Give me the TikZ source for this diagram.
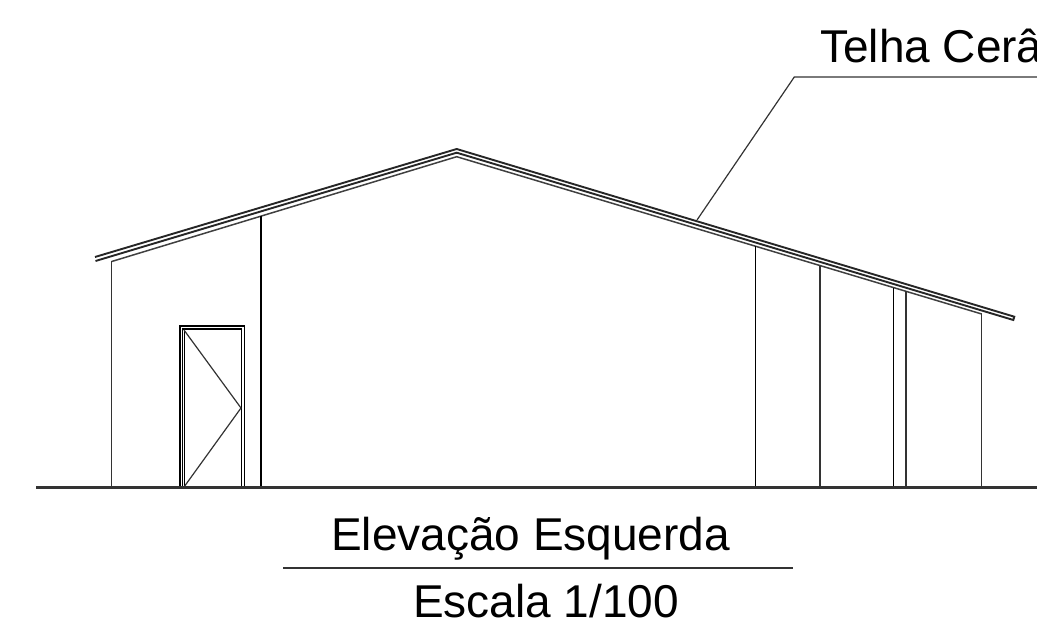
\documentclass[tikz,border=0pt]{standalone}
\usepackage{fontspec}
\setmainfont{Liberation Sans}
\tikzset{
  thin line/.style={line width=1.2pt,black!80},
  thick line/.style={line width=1.7pt,black},
  roof line/.style={line width=1.9pt,black!85},
  label text/.style={inner sep=0pt,anchor=base west,font=\fontsize{46}{52}\selectfont}
}
\begin{document}
\begin{tikzpicture}[x=1pt,y=-1pt]
\useasboundingbox (0,0) rectangle (1037,636);
\clip (0,0) rectangle (1037,636);
% roof
\draw[roof line] (95,257) -- (456.7,149) -- (1014.3,316.7) -- (1013.3,320) -- (456.7,152.7) -- (95.5,261);
\draw[line width=1.5pt,black!75] (111.7,261.5) -- (456.7,156.7) -- (981.7,314);
% walls
\draw[thin line] (111.7,261.5) -- (111.7,487);
\draw[thick line] (261,216) -- (261,487);
\draw[thick line] (755.5,246.3) -- (755.5,487);
\draw[thin line] (820,265.6) -- (820,487);
\draw[thick line] (893.5,287.7) -- (893.5,487);
\draw[thin line] (906,291.5) -- (906,487);
\draw[thin line] (981.7,314) -- (981.7,487);
% door
\draw[thick line] (180,487) -- (180,326) -- (244.5,326) -- (244.5,487);
\draw[thick line] (182.5,487) -- (182.5,328.8) -- (241.5,328.8) -- (241.5,487);
\draw[thick line] (184.5,487) -- (184.5,330);
\draw[thin line] (184,330) -- (241,408) -- (184,487);
% ground
\draw[line width=2.2pt,black!80] (36,487.5) -- (1037,487.5);
% leader
\node[label text] (telha) at (820,63) {Telha Cerâ};
\coordinate (leadA) at (697,220);
\coordinate (leadB) at (794.3,77);
\coordinate (leadC) at (1037,77);
\draw[thin line] (leadA) -- (leadB) -- (leadC);
% title
\node[label text] (titulo) at (331,550) {Elevação Esquerda};
\node[label text] (escala) at (413,617) {Escala 1/100};
\coordinate (ruleA) at (283,568);
\coordinate (ruleB) at (793,568);
\draw[thin line] (ruleA) -- (ruleB);
\end{tikzpicture}
\end{document}
